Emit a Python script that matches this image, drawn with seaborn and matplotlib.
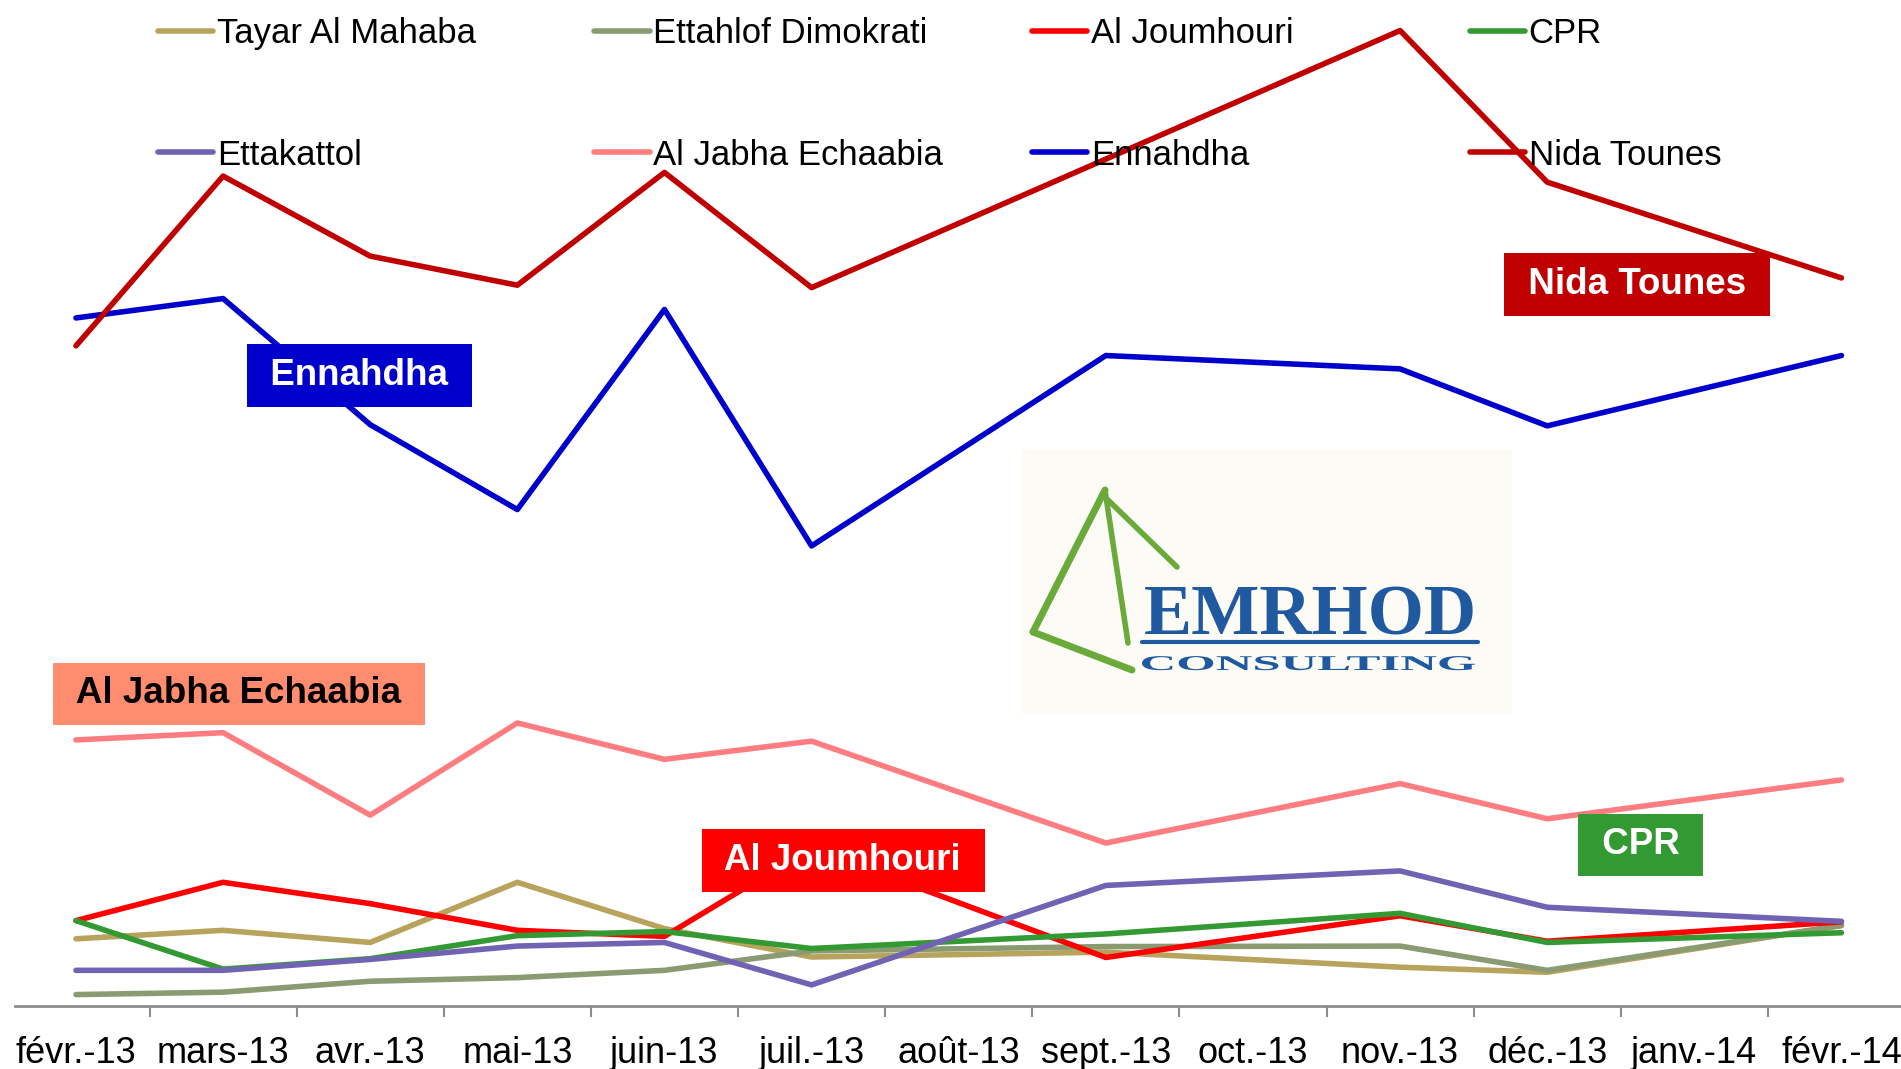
import numpy as np
import pandas as pd
import seaborn as sns
import matplotlib.pyplot as plt
from matplotlib.textpath import TextPath
from matplotlib.patches import PathPatch
from matplotlib.font_manager import FontProperties
from matplotlib.transforms import Affine2D

# mois (août, oct. et janv. sans sondage)
months = ['févr.-13', 'mars-13', 'avr.-13', 'mai-13', 'juin-13', 'juil.-13', 'août-13',
          'sept.-13', 'oct.-13', 'nov.-13', 'déc.-13', 'janv.-14', 'févr.-14']
nan = np.nan

tayar = [2.75, 3.10, 2.60, 5.08, 3.17, 2.00, nan, 2.20, nan, 1.58, 1.37, nan, 3.30]
ettahlof = [0.45, 0.55, 1.00, 1.15, 1.45, 2.25, nan, 2.43, nan, 2.45, 1.45, nan, 3.30]
joumhouri = [3.50, 5.08, 4.20, 3.10, 2.85, 6.50, nan, 1.98, nan, 3.70, 2.65, nan, 3.45]
cpr = [3.50, 1.50, 1.93, 2.88, 3.05, 2.35, nan, 2.95, nan, 3.80, 2.60, nan, 3.00]
ettakattol = [1.45, 1.45, 1.90, 2.45, 2.60, 0.85, nan, 4.95, nan, 5.55, 4.05, nan, 3.47]
jabha = [10.95, 11.25, 7.85, 11.65, 10.15, 10.90, nan, 6.70, nan, 9.15, 7.70, nan, 9.30]
ennahdha = [28.35, 29.15, 23.95, 20.45, 28.70, 18.95, nan, 26.80, nan, 26.25, 23.90, nan, 26.80]
nida = [27.20, 34.20, 30.90, 29.70, 34.35, 29.60, nan, 34.90, nan, 40.20, 33.95, nan, 30.00]

parties = ['Tayar Al Mahaba', 'Ettahlof Dimokrati', 'Al Joumhouri', 'CPR',
           'Ettakattol', 'Al Jabha Echaabia', 'Ennahdha', 'Nida Tounes']
series = [tayar, ettahlof, joumhouri, cpr, ettakattol, jabha, ennahdha, nida]
colors = ['#B7A35B', '#8A9B72', '#FF0000', '#339933',
          '#7162B4', '#FF7C80', '#0000CC', '#C00000']

# tableau long
df = pd.DataFrame([
    {'mois': i, 'parti': p, 'valeur': v}
    for p, vals in zip(parties, series)
    for i, v in enumerate(vals)
]).dropna()

sns.set_style('white')
plt.rcParams['font.family'] = ['Liberation Sans', 'DejaVu Sans']
plt.rcParams['text.color'] = 'black'

fig = plt.figure(figsize=(19.01, 10.69), dpi=100)
ax = fig.add_axes([2.4 / 1901, 63.5 / 1069, 1912.6 / 1901, 1005.5 / 1069])

sns.lineplot(data=df, x='mois', y='valeur', hue='parti', hue_order=parties,
             palette=colors, linewidth=4, ax=ax, legend=True,
             solid_capstyle='round')

handles, labels = ax.get_legend_handles_labels()
ax.get_legend().remove()

ax.set_xlim(-0.5, 12.5)
ax.set_ylim(0, 41.46)
ax.set_xlabel('')
ax.set_ylabel('')
ax.set_yticks([])
ax.set_xticks(range(len(months)))
ax.set_xticklabels(months, fontsize=26)
ax.set_xticks(np.arange(0.5, 12, 1), minor=True)
ax.tick_params(axis='x', which='major', length=0, pad=22, labelcolor='black')
ax.tick_params(axis='x', which='minor', length=8, width=1.5, color='#8C8C8C', bottom=True)
for s in ['left', 'top', 'right']:
    ax.spines[s].set_visible(False)
ax.spines['bottom'].set_color('#8C8C8C')
ax.spines['bottom'].set_linewidth(2)
ax.spines['bottom'].set_bounds(-0.415, 12.5)

# légende : 4 colonnes, 2 lignes
col_x = [157.6, 594.0, 1031.8, 1469.5]
for k, x0 in enumerate(col_x):
    fig.legend(handles=[handles[k], handles[k + 4]], labels=[labels[k], labels[k + 4]],
               loc='upper left', bbox_to_anchor=(x0 / 1901, 1 - 17 / 1069),
               frameon=False, borderpad=0, borderaxespad=0, fontsize=25,
               handlelength=1.6, handletextpad=0.1, labelspacing=2.55,
               labelcolor='black')

# étiquettes des partis
tags = [
    ('Ennahdha', 1.926, 25.975, '#0000CC', 'white'),
    ('Nida Tounes', 10.610, 29.725, '#C00000', 'white'),
    ('Al Jabha Echaabia', 1.109, 12.85, '#FF8C6E', 'black'),
    ('Al Joumhouri', 5.216, 5.975, '#FF0000', 'white'),
    ('CPR', 10.635, 6.625, '#339933', 'white'),
]
for txt, x, y, bg, fg in tags:
    ax.text(x, y, ' ' + txt + ' ', ha='center', va='center', fontsize=26.5,
            fontweight='bold', color=fg, zorder=5,
            bbox=dict(boxstyle='square,pad=0.37', facecolor=bg, edgecolor='none'))

# logo
lg = fig.add_axes([1021 / 1901, 1 - 713 / 1069, 491 / 1901, 264 / 1069])
lg.set_facecolor('#FDFBF6')
lg.set_xlim(1021, 1512)
lg.set_ylim(713, 449)
lg.set_xticks([])
lg.set_yticks([])
for s in lg.spines.values():
    s.set_visible(False)
green = '#6AAA3A'
blue = '#1F5AA0'
lg.plot([1105, 1033], [490, 632], color=green, lw=5, solid_capstyle='round')
lg.plot([1033, 1132], [632, 670], color=green, lw=5, solid_capstyle='round')
lg.plot([1105, 1128], [490, 643], color=green, lw=4, solid_capstyle='round')
lg.plot([1108, 1177], [500, 567], color=green, lw=4, solid_capstyle='round')
lg.text(1310, 634, 'EMRHOD', ha='center', va='baseline', fontsize=52,
        family='Liberation Serif', fontweight='bold', color=blue)
lg.plot([1142, 1478], [642, 642], color=blue, lw=3)
tp = TextPath((0, 0), 'CONSULTING', size=1,
              prop=FontProperties(family='Liberation Serif', weight='bold'))
ext = tp.get_extents()
sx = 333 / ext.width
tr = Affine2D().translate(-ext.x0, 0).scale(sx, -21).translate(1142, 670) + lg.transData
lg.add_patch(PathPatch(tp, transform=tr, facecolor=blue, edgecolor='none'))

fig.savefig('out.png', dpi=100)
